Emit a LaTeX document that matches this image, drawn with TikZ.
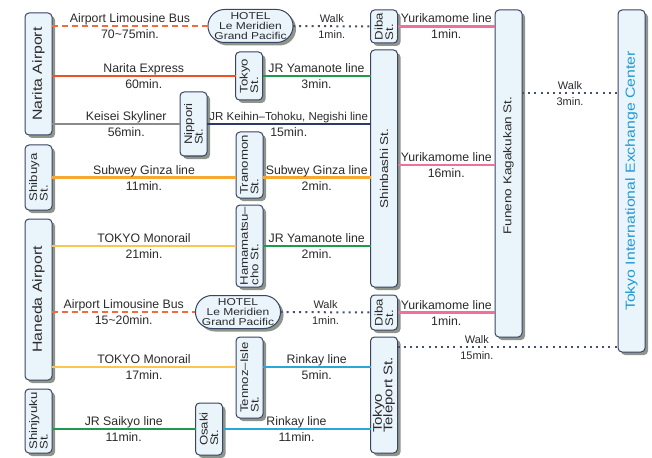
\documentclass[tikz,border=0pt]{standalone}
\usepackage{fontspec}
\setmainfont{Liberation Sans}
\newfontfamily\wideface{Liberation Sans}[FakeStretch=1.2]
\usetikzlibrary{shadows,shapes.misc}
\definecolor{boxfill}{HTML}{EAF4FB}
\definecolor{boxline}{HTML}{3A4463}
\definecolor{boxshade}{HTML}{8E968C}
\definecolor{txt}{HTML}{2A2A2A}
\definecolor{tiecc}{HTML}{1E9AD6}
\definecolor{limoc}{HTML}{F26B3A}
\definecolor{nexc}{HTML}{F04E23}
\definecolor{jrc}{HTML}{1E9A4C}
\definecolor{skyc}{HTML}{8A8A8A}
\definecolor{keihinc}{HTML}{2B3A67}
\definecolor{yuric}{HTML}{F0709A}
\definecolor{ginzac}{HTML}{F7A832}
\definecolor{monoc}{HTML}{F9C74F}
\definecolor{rinkaic}{HTML}{2AA6D9}
\definecolor{walkc}{HTML}{44506E}
\newcommand\labfont{\fontsize{12.3}{12.3}\selectfont}
\newcommand\keihinfont{\fontsize{11.5}{11.5}\selectfont}
\newcommand\walkfont{\fontsize{11}{11}\selectfont}
\newcommand\stnfont{\wideface\fontsize{11}{10.5}\selectfont\lineskiplimit=-20pt\relax}
\newcommand\telefont{\wideface\fontsize{12.5}{10.5}\selectfont\lineskiplimit=-20pt\relax}
\newcommand\bigfont{\wideface\fontsize{11.3}{11.3}\selectfont}
\newcommand\airfont{\wideface\fontsize{13.2}{13.2}\selectfont}
\newcommand\hotfont{\wideface\fontsize{10}{9.6}\selectfont\lineskiplimit=-20pt\relax}
\begin{document}
\begin{tikzpicture}[x=1pt,y=-1pt,inner sep=0pt,outer sep=0pt,
shade/.style={drop shadow={shadow xshift=3pt,shadow yshift=-3pt,fill=boxshade,opacity=1}},
stn/.style={draw=boxline,fill=boxfill,line width=1pt,rounded corners=4pt,minimum width=27pt,shade},
vlab/.style={rotate=90,align=left,text=txt,font=\stnfont},
hotel/.style={rounded rectangle,draw=boxline,fill=boxfill,line width=1pt,minimum width=81pt,
  minimum height=33pt,align=center,text=txt,font=\hotfont,shade},
up/.style={anchor=base,yshift=3.5pt,text=txt,font=\labfont},
dn/.style={anchor=base,yshift=-12.5pt,text=txt,font=\labfont},
limo/.style={draw=limoc,line width=1.6pt,dash pattern=on 6pt off 4pt},
walk/.style={draw=walkc,line width=2pt,dash pattern=on 2pt off 4.2pt},
nex/.style={draw=nexc,line width=2.8pt},
jr/.style={draw=jrc,line width=2.6pt},
sky/.style={draw=skyc,line width=2.2pt},
keihin/.style={draw=keihinc,line width=2.4pt},
yuri/.style={draw=yuric,line width=2.4pt},
ginza/.style={draw=ginzac,line width=2.4pt},
mono/.style={draw=monoc,line width=2.2pt},
rinkai/.style={draw=rinkaic,line width=2.4pt}]

\useasboundingbox (0,0) rectangle (652,457);

\draw (38.5,74) node[stn,minimum height=122pt,label={[vlab,font=\airfont]center:Narita Airport}] (narita) {};
\draw (38.5,177.5) node[stn,minimum height=65pt,label={[vlab]center:Shibuya\\St.}] (shibuya) {};
\draw (38.5,299.5) node[stn,minimum height=161pt,label={[vlab,font=\airfont]center:Haneda Airport}] (haneda) {};
\draw (38.5,421) node[stn,minimum height=64pt,label={[vlab]center:Shinjyuku\\St.}] (shinjyuku) {};
\draw (250.5,26) node[hotel] (hotelA) {HOTEL\\Le Meridien\\Grand Pacific};
\draw (238,312) node[hotel,minimum width=82pt] (hotelB) {HOTEL\\Le Meridien\\Grand Pacific};
\draw (193.5,124) node[stn,minimum height=64pt,label={[vlab]center:Nippori\\St.}] (nippori) {};
\draw (249,76) node[stn,minimum height=48pt,label={[vlab]center:Tokyo\\St.}] (tokyo) {};
\draw (249.5,165) node[stn,minimum height=66pt,label={[vlab]center:Tranomon\\St.}] (tranomon) {};
\draw (249.5,246) node[stn,minimum height=82pt,label={[vlab]center:Hamamatsu–\\cho St.}] (hamamatsu) {};
\draw (249.5,377.5) node[stn,minimum height=81pt,label={[vlab]center:Tennoz–Isle\\St.}] (tennoz) {};
\draw (209,429) node[stn,minimum height=52pt,label={[vlab]center:Osaki\\St.}] (osaki) {};
\draw (384,26.5) node[stn,minimum height=33pt,label={[vlab]center:Diba\\St.}] (dibaA) {};
\draw (384,168.5) node[stn,minimum height=237pt,label={[vlab,font=\bigfont]center:Shinbashi St.}] (shinbashi) {};
\draw (384,312.5) node[stn,minimum height=35pt,label={[vlab]center:Diba\\St.}] (dibaB) {};
\draw (384,395) node[stn,minimum height=116pt,label={[vlab,font=\telefont]center:Tokyo\\Teleport St.}] (teleport) {};
\draw (508.5,173.5) node[stn,minimum height=327pt,label={[vlab,font=\bigfont,xshift=8pt]center:Funeno Kagakukan St.}] (funeno) {};
\draw (631.5,181) node[stn,minimum height=342pt,
  label={[vlab,font=\airfont,text=tiecc]center:Tokyo International Exchange Center}] (tiec) {};

\coordinate (walk3) at (0,93);
\coordinate (yuri16) at (0,165);
\coordinate (walk15) at (0,347);
\coordinate (mono17) at (0,367);

\draw[limo] (narita.east |- hotelA) -- node[up] {Airport Limousine Bus} node[dn] {70\textasciitilde75min.} (hotelA.west);
\draw[walk] (hotelA.east) -- node[up,font=\walkfont] {Walk} node[dn,font=\walkfont] {1min.} (dibaA.west);
\draw[yuri] (dibaA.east) -- node[up] {Yurikamome line} node[dn] {1min.} (dibaA -| funeno.west);
\draw[nex] (narita.east |- tokyo) -- node[up] {Narita Express} node[dn] {60min.} (tokyo.west);
\draw[jr] (tokyo.east) -- node[up] {JR Yamanote line} node[dn] {3min.} (tokyo -| shinbashi.west);
\draw[sky] (narita.east |- nippori) -- node[up,pos=.58] {Keisei Skyliner} node[dn,pos=.58] {56min.} (nippori.west);
\draw[keihin] (nippori.east) -- node[up,font=\keihinfont] {JR Keihin–Tohoku, Negishi line} node[dn] {15min.} (nippori -| shinbashi.west);
\draw[yuri] (shinbashi.east |- yuri16) -- node[up] {Yurikamome line} node[dn] {16min.} (funeno.west |- yuri16);
\draw[walk] (funeno.east |- walk3) -- node[up,font=\walkfont] {Walk} node[dn,font=\walkfont] {3min.} (tiec.west |- walk3);
\draw[ginza] (shibuya.east) -- node[up] {Subwey Ginza line} node[dn] {11min.} (shibuya -| tranomon.west);
\draw[ginza] (tranomon.east |- shibuya) -- node[up] {Subwey Ginza line} node[dn] {2min.} (shibuya -| shinbashi.west);
\draw[mono] (haneda.east |- hamamatsu) -- node[up] {TOKYO Monorail} node[dn] {21min.} (hamamatsu.west);
\draw[jr] (hamamatsu.east) -- node[up] {JR Yamanote line} node[dn] {2min.} (hamamatsu -| shinbashi.west);
\draw[limo] (haneda.east |- hotelB) -- node[up] {Airport Limousine Bus} node[dn] {15\textasciitilde20min.} (hotelB.west);
\draw[walk] (hotelB.east) -- node[up,font=\walkfont] {Walk} node[dn,font=\walkfont] {1min.} (dibaB.west);
\draw[yuri] (dibaB.east) -- node[up] {Yurikamome line} node[dn] {1min.} (dibaB -| funeno.west);
\draw[mono] (haneda.east |- mono17) -- node[up] {TOKYO Monorail} node[dn] {17min.} (tennoz.west |- mono17);
\draw[rinkai] (tennoz.east |- mono17) -- node[up] {Rinkay line} node[dn] {5min.} (teleport.west |- mono17);
\draw[walk] (teleport.east |- walk15) -- node[up,pos=.36,font=\walkfont] {Walk} node[dn,pos=.36,font=\walkfont] {15min.} (tiec.west |- walk15);
\draw[jr] (shinjyuku.east |- osaki) -- node[up] {JR Saikyo line} node[dn] {11min.} (osaki.west);
\draw[rinkai] (osaki.east) -- node[up] {Rinkay line} node[dn] {11min.} (osaki -| teleport.west);
\end{tikzpicture}
\end{document}
